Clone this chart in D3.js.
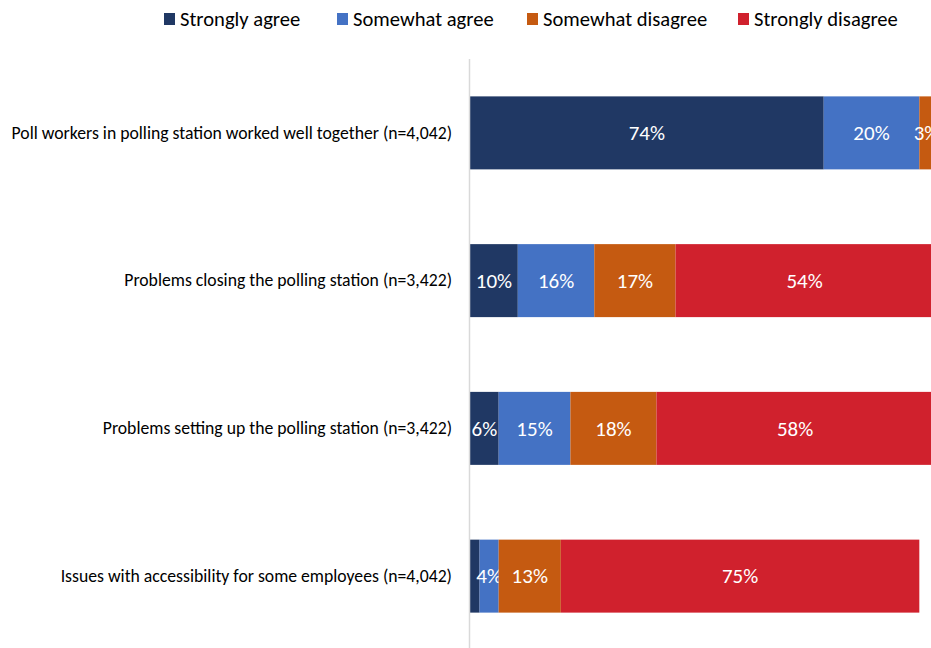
<!DOCTYPE html>
<html>
<head>
<meta charset="utf-8">
<script src="https://cdn.jsdelivr.net/npm/d3@7"></script>
<style>
  html, body { margin: 0; padding: 0; background: #fff; overflow: hidden; }
  svg { display: block; }
  text { font-family: Carlito, "Liberation Sans Narrow", "Arial Narrow", "Liberation Sans", sans-serif; }
</style>
</head>
<body>
<svg id="chart" width="931" height="648"></svg>
<script>
// Survey statements (top to bottom)
const categories = [
  "Poll workers in polling station worked well together (n=4,042)",
  "Problems closing the polling station (n=3,422)",
  "Problems setting up the polling station (n=3,422)",
  "Issues with accessibility for some employees (n=4,042)"
];
const seriesNames = ["Strongly agree", "Somewhat agree", "Somewhat disagree", "Strongly disagree"];
const stronglyAgree    = [74, 10, 6, 2];
const somewhatAgree    = [20, 16, 15, 4];
const somewhatDisagree = [3, 17, 18, 13];
const stronglyDisagree = [3, 54, 58, 75];
const colors = ["#203864", "#4472C4", "#C55A11", "#D0212D"];

const seriesValues = [stronglyAgree, somewhatAgree, somewhatDisagree, stronglyDisagree];
const rows = categories.map((c, i) => {
  const r = { category: c };
  seriesNames.forEach((s, j) => { r[s] = seriesValues[j][i]; });
  return r;
});

const width = 931, height = 648;
const svg = d3.select("#chart");
const axisX = 470;

const x = d3.scaleLinear().domain([0, 100]).range([axisX, axisX + 478]);
const y = d3.scaleBand().domain(categories).range([59, 650])
  .paddingInner(0.506).paddingOuter(0.253);
const color = d3.scaleOrdinal().domain(seriesNames).range(colors);

const stacked = d3.stack().keys(seriesNames)(rows);

// stacked bars
const groups = svg.append("g").selectAll("g")
  .data(stacked).join("g")
  .attr("fill", d => color(d.key));

groups.selectAll("rect")
  .data(d => d.map(p => Object.assign(p, { key: d.key })))
  .join("rect")
  .attr("x", d => x(d[0]))
  .attr("y", d => y(d.data.category))
  .attr("width", d => x(d[1]) - x(d[0]))
  .attr("height", y.bandwidth());

// value labels (segments too thin or past the plot edge get none)
groups.selectAll("text")
  .data(d => d.filter(p => p[1] - p[0] >= 3 && (x(p[0]) + x(p[1])) / 2 < width))
  .join("text")
  .attr("x", d => (x(d[0]) + x(d[1])) / 2)
  .attr("y", d => y(d.data.category) + y.bandwidth() / 2)
  .attr("dy", "0.35em")
  .attr("text-anchor", "middle")
  .attr("fill", "#fff")
  .style("font-size", "21px")
  .text(d => (d[1] - d[0]) + "%");

// category axis
const yAxis = svg.append("g")
  .attr("transform", `translate(${axisX},0)`)
  .call(d3.axisLeft(y).tickSize(0).tickPadding(18));
yAxis.select(".domain").remove();
yAxis.selectAll("text")
  .attr("fill", "#000")
  .style("font-size", "17.7px");

svg.append("line")
  .attr("x1", axisX - 0.5).attr("x2", axisX - 0.5)
  .attr("y1", 59).attr("y2", height)
  .attr("stroke", "#D9D9D9").attr("stroke-width", 1.5);

// legend
const legendX = [164, 337, 527, 738];
const legend = svg.append("g").selectAll("g")
  .data(seriesNames).join("g")
  .attr("transform", (d, i) => `translate(${legendX[i]},0)`);
legend.append("rect")
  .attr("x", 0).attr("y", 13)
  .attr("width", 11).attr("height", 12)
  .attr("fill", d => color(d));
legend.append("text")
  .attr("x", 16).attr("y", 19)
  .attr("dy", "0.35em")
  .attr("fill", "#000")
  .style("font-size", "20.6px")
  .text(d => d);
</script>
</body>
</html>
